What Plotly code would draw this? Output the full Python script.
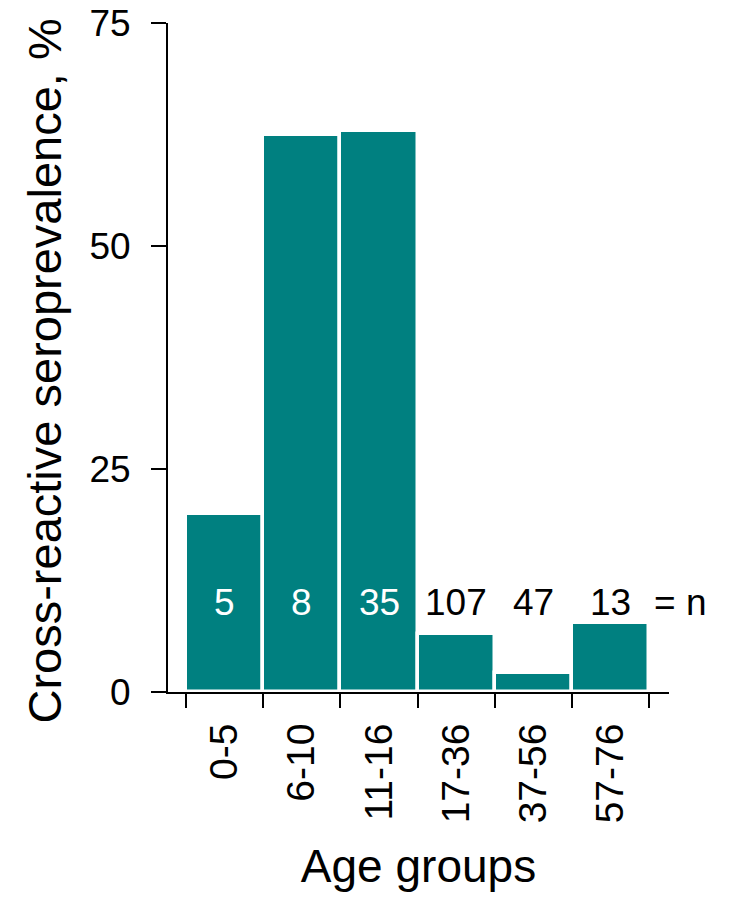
import plotly.graph_objects as go

age_groups = ["0-5", "6-10", "11-16", "17-36", "37-56", "57-76"]
seroprevalence = [20.0, 62.5, 62.9, 6.5, 2.1, 7.7]
n_counts = ["5", "8", "35", "107", "47", "13"]
y_ticks = [0, 25, 50, 75]

TEAL = "#008080"
FONT = "Liberation Sans, Arial, sans-serif"

centers = [i + 0.5 for i in range(len(age_groups))]
edges = list(range(len(age_groups) + 1))

fig = go.Figure()
fig.add_trace(go.Bar(
    x=centers, y=seroprevalence, width=1.0,
    marker=dict(color=TEAL, line=dict(color="white", width=3.5)),
    showlegend=False, hoverinfo="skip",
))

label_y = 10
for c, n, v in zip(centers, n_counts, seroprevalence):
    fig.add_annotation(x=c, y=label_y, xref="x", yref="y", text=n, showarrow=False,
                       xanchor="center",
                       font=dict(size=37, color="white" if v > label_y + 5 else "black", family=FONT))
fig.add_annotation(x=1.022, y=label_y, xref="paper", yref="y", text="= n",
                   showarrow=False, xanchor="center",
                   font=dict(size=37, color="black", family=FONT))

# y-axis title
fig.add_annotation(x=-0.2465, y=0.4798, xref="paper", yref="paper",
                   text="Cross-reactive seroprevalence, %", textangle=-90,
                   showarrow=False, xanchor="center", yanchor="middle",
                   font=dict(size=47, color="black", family=FONT))

# invisible trace to carry the edge-tick axis
fig.add_trace(go.Scatter(x=edges, y=[0] * len(edges), xaxis="x2", yaxis="y",
                         mode="markers", marker=dict(opacity=0), showlegend=False,
                         hoverinfo="skip"))

fig.update_layout(
    width=730, height=884,
    margin=dict(l=160, r=69, t=15, b=200, autoexpand=False),
    plot_bgcolor="white", paper_bgcolor="white",
    font=dict(family=FONT, color="black"),
    bargap=0,
    xaxis=dict(
        range=[-0.233, 6.256], tickvals=centers, ticktext=age_groups,
        ticks="", tickangle=-90, tickfont=dict(size=39),
        ticklabelstandoff=14,
        showline=True, linecolor="black", linewidth=2,
        showgrid=False, zeroline=False,
        title=dict(text="Age groups", font=dict(size=46), standoff=47),
    ),
    xaxis2=dict(
        overlaying="x", matches="x", anchor="y", side="bottom",
        tickvals=edges, ticks="outside", ticklen=15, tickwidth=2, tickcolor="black",
        showticklabels=False, showline=False, showgrid=False, zeroline=False,
    ),
    yaxis=dict(
        range=[0, 75], tickvals=y_ticks, ticks="outside", ticklen=15, tickwidth=2,
        tickcolor="black", tickfont=dict(size=37), ticklabelstandoff=13,
        ticklabeloverflow="allow",
        showline=True, linecolor="black", linewidth=2,
        showgrid=False, zeroline=False,
    ),
)

fig.write_html("out.html")
